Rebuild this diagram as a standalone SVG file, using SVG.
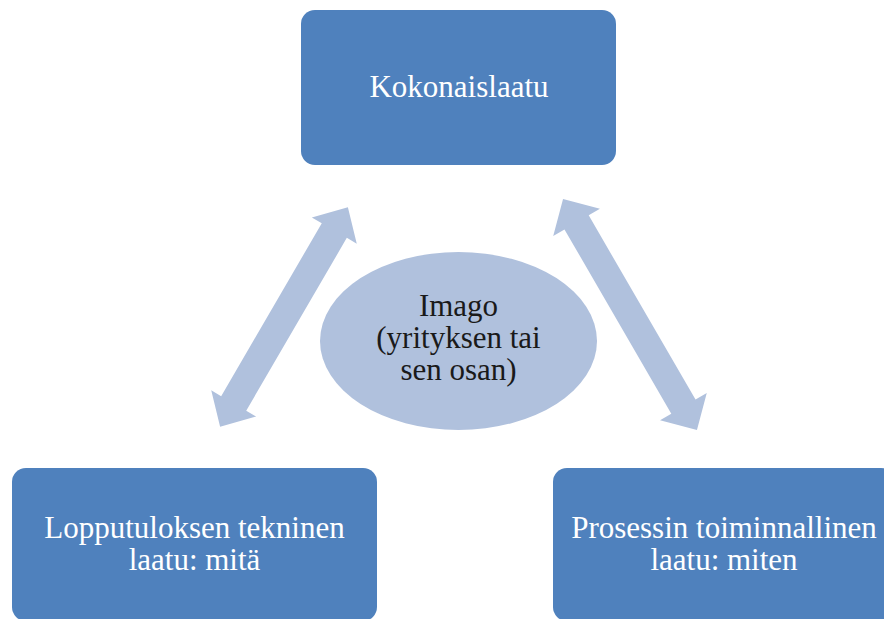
<svg xmlns="http://www.w3.org/2000/svg" width="884" height="619" viewBox="0 0 884 619">
<style>
.box{fill:#4F81BD}
.lt{fill:#B0C1DD}
.wt{font-family:'Liberation Serif','DejaVu Serif','Times New Roman',serif;font-size:31px;fill:#FFFFFF;text-anchor:middle}
.dt{font-family:'Liberation Serif','DejaVu Serif','Times New Roman',serif;font-size:31px;fill:#1A1A1A;text-anchor:middle}
</style>
<rect width="884" height="619" fill="#FFFFFF"/>
<g id="connectors">
<polygon class="lt" transform="translate(284,317) rotate(-59.8)" points="127,0 100,-26 100,-14.5 -100,-14.5 -100,-26 -127,0 -100,26 -100,14.5 100,14.5 100,26"/>
<polygon class="lt" transform="translate(630,314.5) rotate(59.9)" points="133.5,0 106.5,-27 106.5,-14 -106.5,-14 -106.5,-27 -133.5,0 -106.5,27 -106.5,14 106.5,14 106.5,27"/>
</g>
<g id="node-kokonaislaatu">
<rect class="box" x="301" y="10" width="315" height="155" rx="14"/>
<text class="wt" x="459" y="97">Kokonaislaatu</text>
</g>
<g id="node-imago">
<ellipse class="lt" cx="458.5" cy="341" rx="138.5" ry="89"/>
<text class="dt" x="458.5" y="316">Imago</text>
<text class="dt" x="458.5" y="348">(yrityksen tai</text>
<text class="dt" x="458.5" y="380">sen osan)</text>
</g>
<g id="node-lopputulos">
<rect class="box" x="12" y="468" width="365" height="153" rx="14"/>
<text class="wt" x="194.5" y="538">Lopputuloksen tekninen</text>
<text class="wt" x="194.5" y="570">laatu: mitä</text>
</g>
<g id="node-prosessi">
<rect class="box" x="553" y="468" width="342" height="153" rx="14"/>
<text class="wt" x="724" y="538">Prosessin toiminnallinen</text>
<text class="wt" x="724" y="570">laatu: miten</text>
</g>
</svg>
